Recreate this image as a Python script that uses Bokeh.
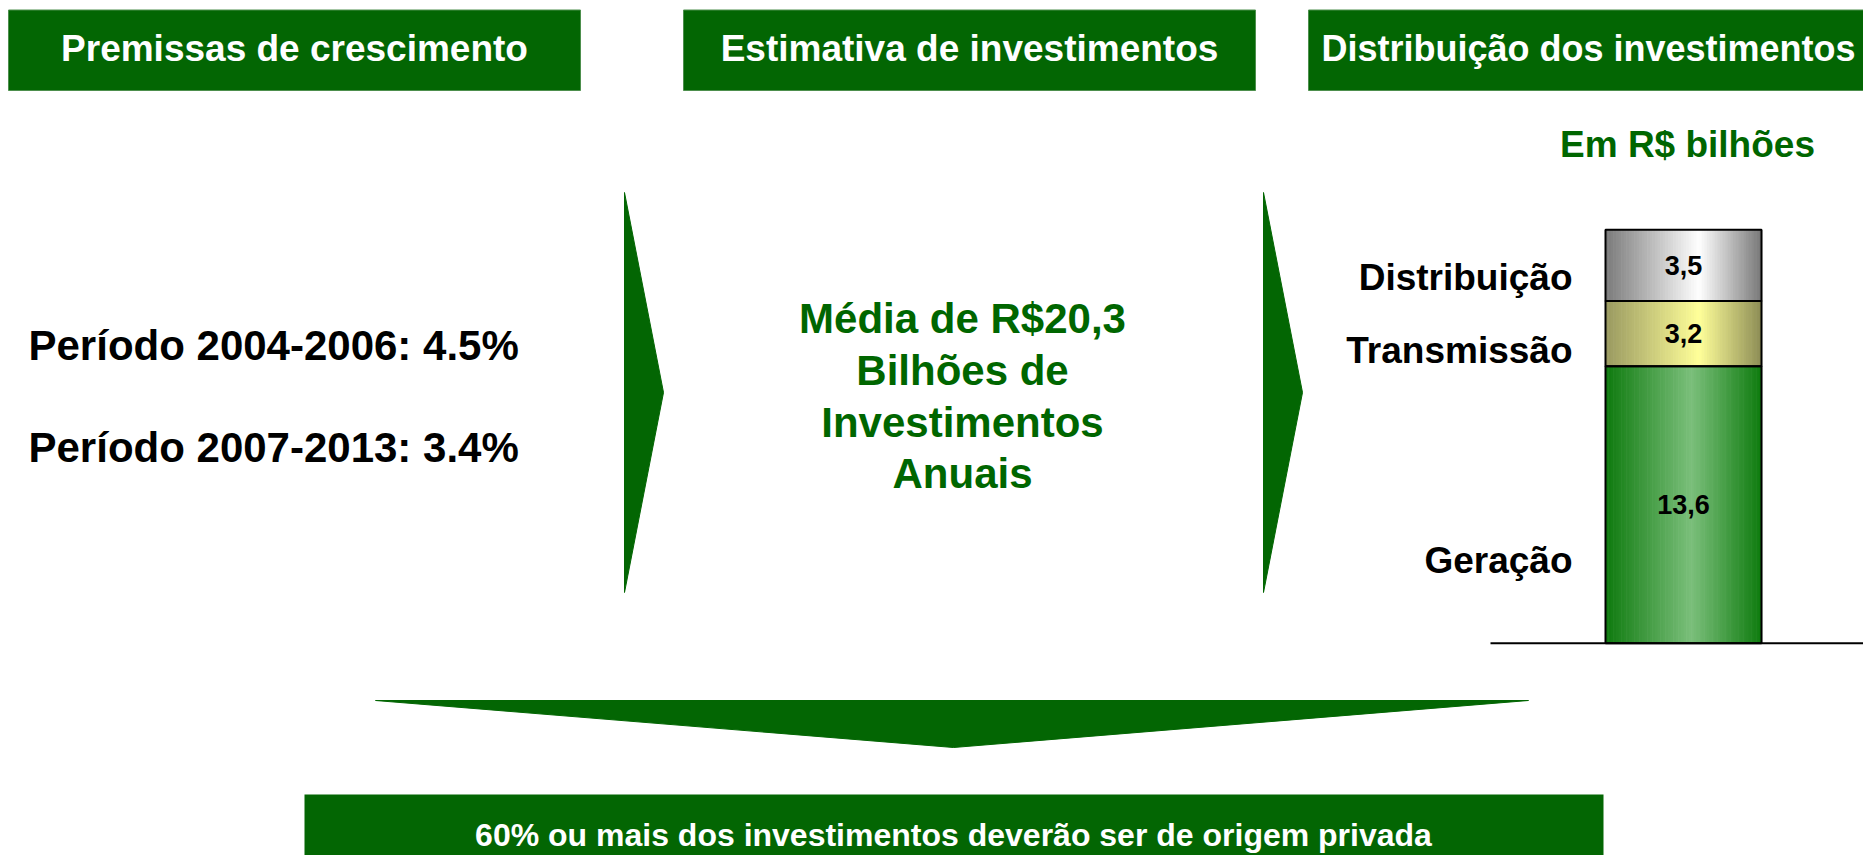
from bokeh.plotting import figure
from bokeh.models import Range1d
from bokeh.core.properties import value
from bokeh.embed import file_html
from bokeh.resources import INLINE

# ---------------- data ----------------
headers = ["Premissas de crescimento", "Estimativa de investimentos", "Distribuição dos investimentos"]
growth_lines = ["Período 2004-2006: 4.5%", "Período 2007-2013: 3.4%"]
center_lines = ["Média de R$20,3", "Bilhões de", "Investimentos", "Anuais"]
unit_label = "Em R$ bilhões"
categories = ["Geração", "Transmissão", "Distribuição"]
values = [13.6, 3.2, 3.5]
value_labels = ["13,6", "3,2", "3,5"]
footer = "60% ou mais dos investimentos deverão ser de origem privada"

# ---------------- layout (page pixels) ----------------
W, H = 1863, 855
X0, Y0 = 0, 0
FONT = value("Liberation Sans")
GREEN = "#036603"
TEXT_GREEN = "#006600"

p = figure(width=W, height=H, output_backend="svg", toolbar_location=None,
           x_range=Range1d(X0, X0 + W), y_range=Range1d(Y0 + H, Y0),
           x_axis_location=None, y_axis_location=None, min_border=0,
           background_fill_color="white", border_fill_color="white")
p.outline_line_color = None
p.xgrid.visible = False
p.ygrid.visible = False

# bar value range: baseline at page y 642.7, 20.37 px per unit
BASE_Y, PPU = 642.7, 20.37
p.extra_y_ranges = {"val": Range1d(start=(BASE_Y - (Y0 + H)) / PPU, end=(BASE_Y - Y0) / PPU)}

# header boxes
hdr_left = [8, 683, 1308]
hdr_w = 572
p.quad(left=hdr_left, right=[l + hdr_w for l in hdr_left], top=[9.5] * 3, bottom=[90] * 3,
       fill_color=GREEN, line_color="#4d8f4d", line_width=1)
p.text(x=[l + hdr_w / 2 for l in hdr_left[:2]], y=[48] * 2, text=headers[:2],
       text_font=FONT, text_font_style="bold", text_font_size="37px",
       text_color="white", text_align="center", text_baseline="middle")
p.text(x=[1321], y=[48], text=headers[2:],
       text_font=FONT, text_font_style="bold", text_font_size="36px",
       text_color="white", text_align="left", text_baseline="middle")

# left text
p.text(x=[28] * 2, y=[345, 447], text=growth_lines, text_font=FONT, text_font_style="bold",
       text_font_size="42px", text_color="black", text_align="left", text_baseline="middle")

# chevrons
p.patches(xs=[[624, 663, 624], [1263, 1302, 1263]], ys=[[192, 392, 592], [192, 392, 592]],
          fill_color=GREEN, line_color=GREEN, line_width=1)

# center text
p.text(x=[962] * 4, y=[318, 370, 422, 473], text=center_lines, text_font=FONT,
       text_font_style="bold", text_font_size="42px", text_color=TEXT_GREEN,
       text_align="center", text_baseline="middle")

# unit label
p.text(x=[1687], y=[144], text=[unit_label], text_font=FONT, text_font_style="bold",
       text_font_size="37px", text_color=TEXT_GREEN, text_align="center", text_baseline="middle")

# ---------------- stacked bar with gradient fill ----------------
BAR_L, BAR_R = 1605, 1761
grad = {
    "Geração": ((0x0e, 0x7a, 0x0e), (0x7b, 0xbf, 0x7b), (0x0e, 0x7b, 0x0e), 0.55),
    "Transmissão": ((0x99, 0x99, 0x60), (0xff, 0xff, 0x99), (0x8c, 0x8c, 0x55), 0.60),
    "Distribuição": ((0x7a, 0x7a, 0x7a), (0xff, 0xff, 0xff), (0x77, 0x77, 0x77), 0.60),
}
N = 60
bottoms, tops = [], []
acc = 0.0
for v in values:
    bottoms.append(acc)
    acc += v
    tops.append(acc)

sl, sr, sb, st, sc = [], [], [], [], []
for cat, b, t in zip(categories, bottoms, tops):
    left_c, peak_c, right_c, pk = grad[cat]
    for i in range(N):
        f = (i + 0.5) / N
        if f <= pk:
            a = f / pk
            c0, c1 = left_c, peak_c
        else:
            a = (f - pk) / (1 - pk)
            c0, c1 = peak_c, right_c
        col = tuple(int(round(c0[k] + (c1[k] - c0[k]) * a)) for k in range(3))
        sl.append(BAR_L + (BAR_R - BAR_L) * i / N)
        sr.append(BAR_L + (BAR_R - BAR_L) * (i + 1) / N + 0.6)
        sb.append(b)
        st.append(t)
        sc.append("#%02x%02x%02x" % col)
p.quad(left=sl, right=sr, bottom=sb, top=st, fill_color=sc, line_color=None, y_range_name="val")
p.quad(left=[BAR_L] * 3, right=[BAR_R] * 3, bottom=bottoms, top=tops, fill_color=None,
       line_color="black", line_width=2, y_range_name="val")

# baseline
p.segment(x0=[1490], x1=[X0 + W], y0=[0], y1=[0], line_color="black", line_width=2, y_range_name="val")

# value labels at segment centres
p.text(x=[(BAR_L + BAR_R) / 2] * 3, y=[(b + t) / 2 for b, t in zip(bottoms, tops)], text=value_labels,
       text_font=FONT, text_font_style="bold", text_font_size="27px", text_color="black",
       text_align="center", text_baseline="middle", y_range_name="val")

# category labels
p.text(x=[1572] * 3, y=[559.7, 349.7, 276.5], text=categories, text_font=FONT,
       text_font_style="bold", text_font_size="37px", text_color="black",
       text_align="right", text_baseline="middle")

# down arrow
p.patch(x=[375, 1528, 953], y=[700, 700, 747], fill_color=GREEN, line_color=GREEN, line_width=1)

# footer box
p.quad(left=[304], right=[1603], top=[794], bottom=[Y0 + H + 20], fill_color=GREEN, line_color=None)
p.text(x=[953], y=[834], text=[footer], text_font=FONT, text_font_style="bold",
       text_font_size="32px", text_color="white", text_align="center", text_baseline="middle")

open("out.html", "w").write(file_html(p, INLINE))
